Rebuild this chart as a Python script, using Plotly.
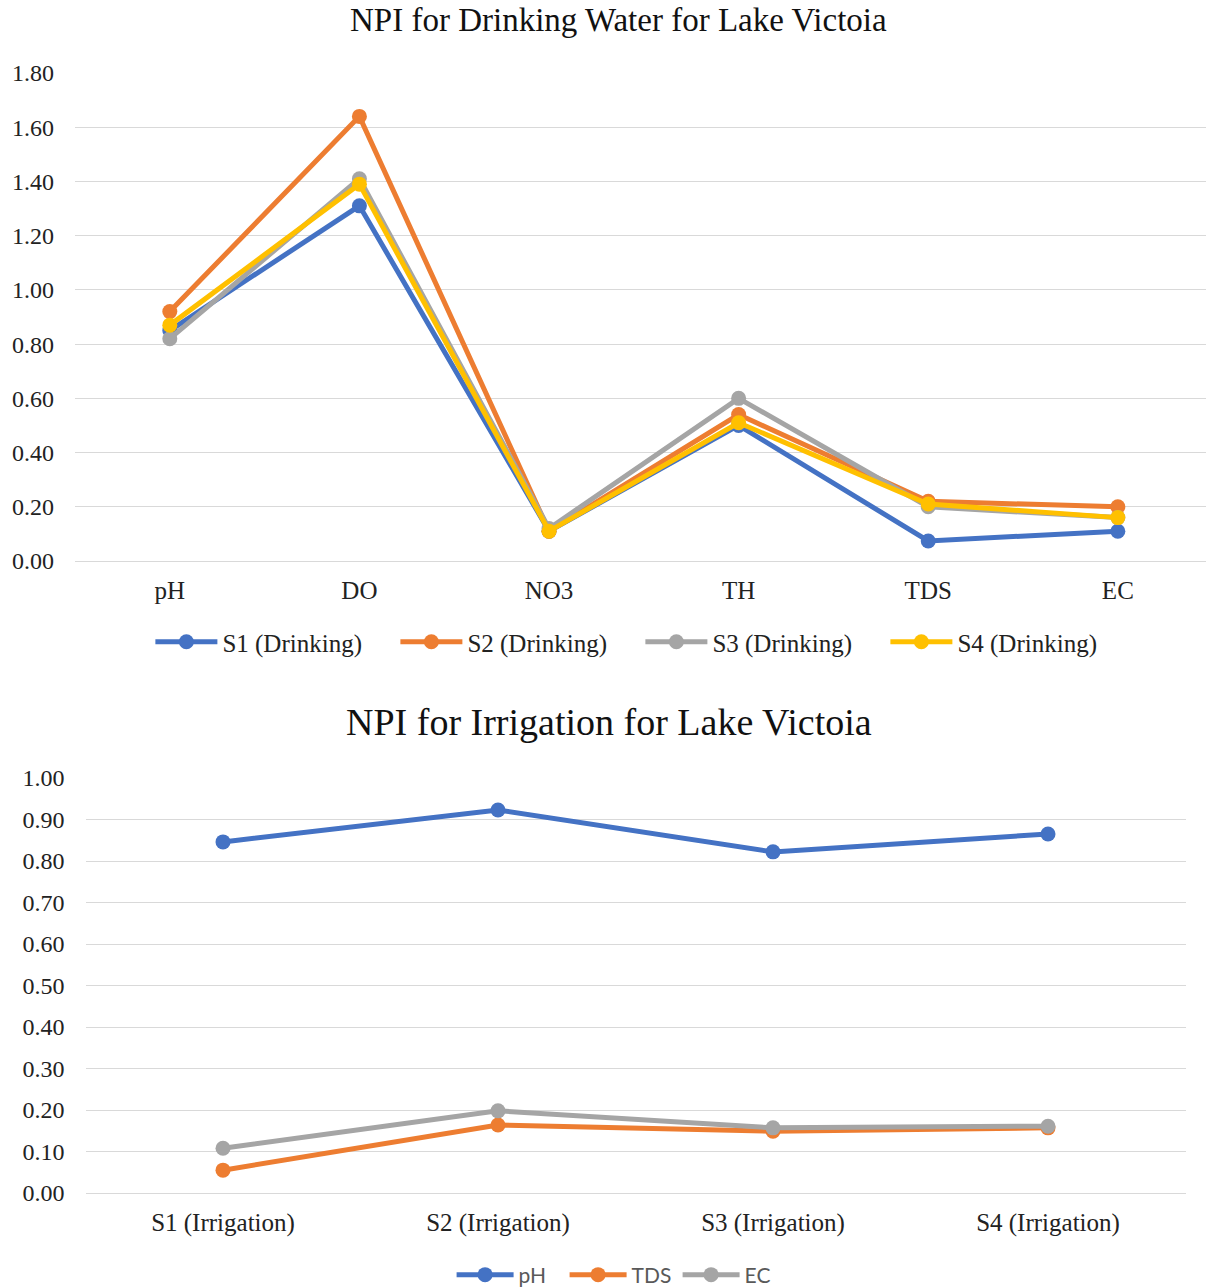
import plotly.graph_objects as go

# Drinking-water NPI per parameter, one series per sampling site
params = ["pH", "DO", "NO3", "TH", "TDS", "EC"]
s1_drinking = [0.85, 1.31, 0.11, 0.50, 0.074, 0.11]
s2_drinking = [0.92, 1.64, 0.11, 0.54, 0.22, 0.20]
s3_drinking = [0.82, 1.41, 0.12, 0.60, 0.20, 0.16]
s4_drinking = [0.87, 1.39, 0.11, 0.51, 0.21, 0.16]

# Irrigation NPI per site, one series per parameter
sites = ["S1 (Irrigation)", "S2 (Irrigation)", "S3 (Irrigation)", "S4 (Irrigation)"]
ph_irrigation = [0.846, 0.923, 0.822, 0.865]
tds_irrigation = [0.055, 0.164, 0.149, 0.157]
ec_irrigation = [0.108, 0.198, 0.157, 0.161]

BLUE, ORANGE, GRAY, YELLOW = "#4472C4", "#ED7D31", "#A5A5A5", "#FFC000"
SERIF = "Liberation Serif, Times New Roman, serif"
SANS = "Lato, Open Sans, sans-serif"

W, H = 1206, 1288

fig = go.Figure()

top_series = [
    ("S1 (Drinking)", s1_drinking, BLUE),
    ("S2 (Drinking)", s2_drinking, ORANGE),
    ("S3 (Drinking)", s3_drinking, GRAY),
    ("S4 (Drinking)", s4_drinking, YELLOW),
]
for name, vals, col in top_series:
    fig.add_trace(go.Scatter(
        x=params, y=vals, name=name, mode="lines+markers",
        line=dict(color=col, width=5), marker=dict(color=col, size=15),
        cliponaxis=False, xaxis="x", yaxis="y", legend="legend",
    ))

bottom_series = [
    ("pH", ph_irrigation, BLUE),
    ("TDS", tds_irrigation, ORANGE),
    ("EC", ec_irrigation, GRAY),
]
for name, vals, col in bottom_series:
    fig.add_trace(go.Scatter(
        x=sites, y=vals, name=name, mode="lines+markers",
        line=dict(color=col, width=5), marker=dict(color=col, size=15),
        cliponaxis=False, xaxis="x2", yaxis="y2", legend="legend2",
    ))

grid = "#D9D9D9"
tick_font = dict(family=SERIF, size=24, color="#222222")
xtick_font = dict(family=SERIF, size=25, color="#222222")

fig.update_layout(
    width=W, height=H,
    margin=dict(l=0, r=0, t=0, b=0, autoexpand=False),
    paper_bgcolor="white", plot_bgcolor="white",
    xaxis=dict(domain=[75 / W, 1.0], range=[-0.5, 5.465], anchor="y",
               showgrid=False, showline=False, zeroline=False, automargin=False,
               ticks="", tickfont=xtick_font, ticklabelstandoff=12),
    yaxis=dict(domain=[1 - 561 / H, 1 - 73 / H], range=[0, 1.8], anchor="x",
               dtick=0.2, tickformat=".2f", showgrid=True, gridcolor=grid,
               gridwidth=1.2, zeroline=True, zerolinecolor=grid, zerolinewidth=1.2,
               automargin=False, ticks="", tickfont=tick_font, ticklabelstandoff=20),
    xaxis2=dict(domain=[85.5 / W, 1185.5 / W], range=[-0.5, 3.5], anchor="y2",
                showgrid=False, showline=False, zeroline=False, automargin=False,
                ticks="", tickfont=xtick_font, ticklabelstandoff=12),
    yaxis2=dict(domain=[1 - 1193 / H, 1 - 778 / H], range=[0, 1.0], anchor="x2",
                dtick=0.1, tickformat=".2f", showgrid=True, gridcolor=grid,
                gridwidth=1.2, zeroline=True, zerolinecolor=grid, zerolinewidth=1.2,
                automargin=False, ticks="", tickfont=tick_font, ticklabelstandoff=20),
    legend=dict(orientation="h", xref="container", yref="container",
                x=0.531, xanchor="center", y=1 - 642 / H, yanchor="middle",
                font=dict(family=SERIF, size=25, color="#222222"),
                itemwidth=62, entrywidth=168, bgcolor="rgba(0,0,0,0)"),
    legend2=dict(orientation="h", xref="container", yref="container",
                 x=0.515, xanchor="center", y=1 - 1275 / H, yanchor="middle",
                 font=dict(family=SANS, size=21, color="#595959"),
                 itemwidth=57, entrywidth=41, bgcolor="rgba(0,0,0,0)"),
    annotations=[
        dict(text="NPI for Drinking Water for Lake Victoia", x=0.513, y=1 - 20 / H,
             xref="paper", yref="paper", yanchor="middle", showarrow=False,
             font=dict(family=SERIF, size=33, color="#111111")),
        dict(text="NPI for Irrigation for Lake Victoia", x=0.505, y=1 - 722 / H,
             xref="paper", yref="paper", yanchor="middle", showarrow=False,
             font=dict(family=SERIF, size=38, color="#111111")),
    ],
)

fig.write_html("out.html")
